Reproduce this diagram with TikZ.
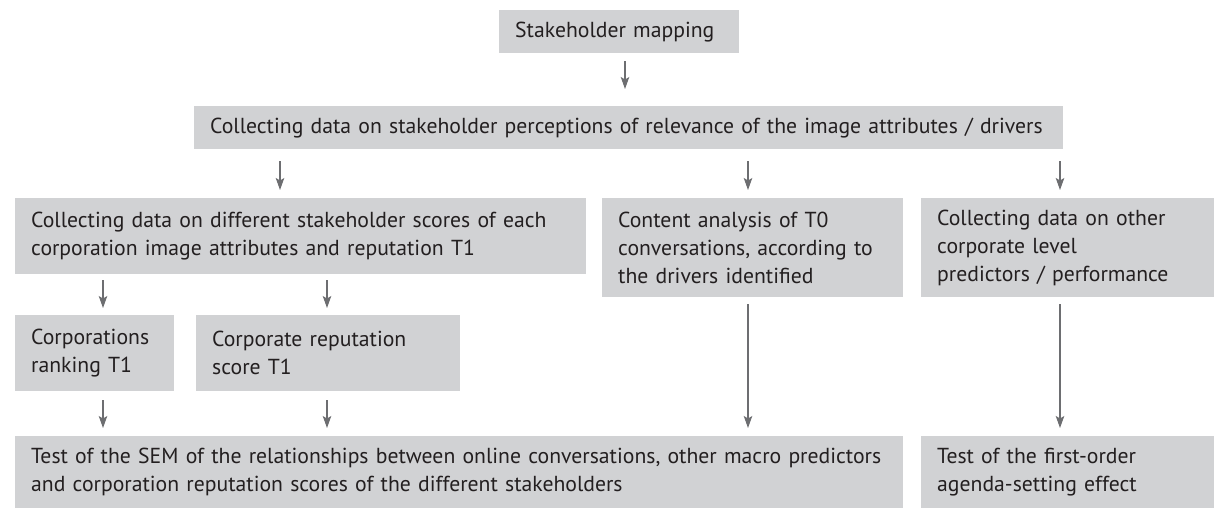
\documentclass[tikz,border=0pt]{standalone}
\usepackage{fontspec}
\setmainfont{PT Sans}
\usetikzlibrary{arrows.meta}
\definecolor{boxgrey}{HTML}{D1D2D4}
\definecolor{arrgrey}{HTML}{6D6E71}
\definecolor{txt}{HTML}{231F20}
\tikzset{
  stepbox/.style n args={2}{rectangle, fill=boxgrey, anchor=north west,
    inner xsep=16pt, inner ysep=0pt, text width=#1pt-32pt, minimum height=#2pt,
    align=left, text=txt, font=\fontsize{21.7}{28}\selectfont},
  arr/.style={draw=arrgrey, line width=1.1pt, -{Stealth[length=12pt,width=8.5pt,inset=2.5pt]}}
}
\begin{document}
\begin{tikzpicture}[x=1pt,y=-1pt]
\useasboundingbox (0,0) rectangle (1215,509);
\node[stepbox={240}{43}] (b1) at (499,10) {Stakeholder mapping};
\node[stepbox={869}{43}] (b2) at (194,106) {Collecting data on stakeholder perceptions of relevance of the image attributes / drivers};
\node[stepbox={571}{76}] (b3) at (15,198) {Collecting data on different stakeholder scores of each\\corporation image attributes and reputation T1};
\node[stepbox={301}{99}] (b4) at (602,198) {Content analysis of T0\\conversations, according to\\the drivers identified};
\node[stepbox={293}{99}] (b5) at (921,198) {Collecting data on other\\corporate level\\predictors / performance};
\node[stepbox={159}{76}] (b6) at (15,315) {Corporations\\ranking T1};
\node[stepbox={264}{76}] (b7) at (196,315) {Corporate reputation\\score T1};
\node[stepbox={888}{72}] (b8) at (15,436) {Test of the SEM of the relationships between online conversations, other macro predictors\\and corporation reputation scores of the different stakeholders};
\node[stepbox={293}{72}] (b9) at (921,436) {Test of the first-order\\agenda-setting effect};
% connectors
\draw[arr, shorten <=8pt, shorten >=17pt] (b1.south -| 625,0) -- (b2.north -| 625,0);
\draw[arr, shorten <=12pt, shorten >=8pt] (b2.south -| 280,0) -- (b3.north -| 280,0);
\draw[arr, shorten <=12pt, shorten >=8pt] (b2.south -| 748,0) -- (b4.north -| 748,0);
\draw[arr, shorten <=12pt, shorten >=8pt] (b2.south -| 1060,0) -- (b5.north -| 1060,0);
\draw[arr, shorten <=6pt, shorten >=7pt] (b3.south -| 103,0) -- (b6.north -| 103,0);
\draw[arr, shorten <=6pt, shorten >=7pt] (b3.south -| 327,0) -- (b7.north -| 327,0);
\draw[arr, shorten <=9pt, shorten >=8pt] (b6.south -| 103,0) -- (b8.north -| 103,0);
\draw[arr, shorten <=9pt, shorten >=8pt] (b7.south -| 327,0) -- (b8.north -| 327,0);
\draw[arr, shorten <=7pt, shorten >=8pt] (b4.south -| 748,0) -- (b8.north -| 748,0);
\draw[arr, shorten <=7pt, shorten >=8pt] (b5.south -| 1060,0) -- (b9.north -| 1060,0);
\end{tikzpicture}
\end{document}
